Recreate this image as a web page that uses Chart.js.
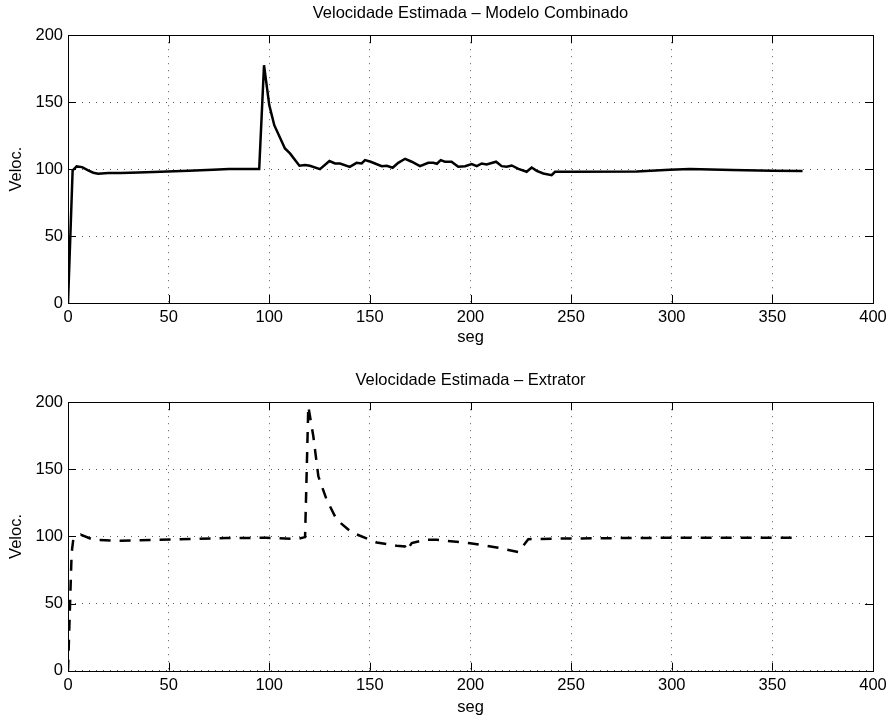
<!DOCTYPE html>
<html lang="pt">
<head>
    <meta charset="UTF-8">
    <title>Velocidade Estimada</title>
    <script src="https://cdn.jsdelivr.net/npm/chart.js@4.4.1/dist/chart.umd.min.js"></script>
    <style>
        html, body { margin: 0; padding: 0; background: #fff; }
        .plot { position: absolute; left: 0; width: 893px; height: 362px; }
        #p1 { top: 0; }
        #p2 { top: 362px; }
    </style>
</head>
<body>
    <div class="plot" id="p1"><canvas id="modeloChart"></canvas></div>
    <div class="plot" id="p2"><canvas id="extratorChart"></canvas></div>

    <script>
        // Modelo combinado (linha contínua)
        const tempoModelo = [0, 2.3, 4.3, 7, 10, 12.6, 15, 20, 26, 35, 46, 60, 72, 80, 95,
            97.4, 100, 102.5, 107.8, 110.3, 115, 117.8, 120.2, 125.2, 129.9, 132.7, 135.2,
            140, 143.4, 145.9, 147.6, 150.4, 155.9, 158.4, 161.3, 164.1, 167.5, 170.8, 174.9,
            179, 181.5, 183.3, 185.2, 187.3, 190.6, 193.9, 197.3, 200.6, 203.1, 205.6, 208,
            212.7, 215.5, 218, 220.5, 223.8, 227.9, 230.4, 232.9, 236.2, 240.3, 242, 250,
            282.6, 299, 309, 330, 350, 365];
        const velocModelo = [0, 99, 102, 101.5, 99, 97.3, 96.5, 97, 97, 97.5, 98, 98.7, 99.5, 100, 100,
            177.6, 147.8, 132.8, 115.4, 111.7, 102.5, 103, 102.5, 100, 106, 104.2, 104.2,
            101.7, 104.7, 104.2, 106.7, 105.5, 102.2, 102.5, 101, 104.7, 107.7, 105.5, 102.2,
            104.7, 104.7, 104, 106.7, 105.5, 105.5, 101.7, 102.2, 103.7, 102.2, 104.2, 103.5,
            105.5, 102.2, 101.7, 102.7, 100.2, 98, 101.2, 98.7, 96.7, 95.5, 98, 98,
            98.2, 99.5, 100, 99.3, 98.7, 98.5];

        // Extrator (linha tracejada)
        const tempoExtrator = [0, 1.8, 2.6, 6.3, 12.6, 25.8, 45.7, 78.8, 98.7, 113.6, 117.8,
            119.4, 121.9, 124.4, 128.5, 133.5, 141, 153.4, 163.3, 167.5, 168.3, 170.8, 177.4,
            183.2, 191.5, 199.8, 213, 223.8, 228.7, 249.4, 299, 330, 360];
        const velocExtrator = [0, 87.6, 97.5, 101.3, 97.5, 96.8, 97.5, 98.8, 99, 98, 99.5,
            197, 174.6, 144.8, 127.4, 112.5, 103, 95.5, 93, 92.5, 89.5, 95, 97.5,
            97.5, 96.3, 95, 91.8, 88.4, 98, 98.5, 99, 99, 99];

        const ticksX = [0, 50, 100, 150, 200, 250, 300, 350, 400];
        const ticksY = [0, 50, 100, 150, 200];

        Chart.defaults.font.family = "'Liberation Sans', Arial, Helvetica, sans-serif";
        Chart.defaults.font.size = 16.5;
        Chart.defaults.color = '#000';

        // caixa dos eixos + marcas para dentro (estilo matlab)
        const boxTicks = {
            id: 'boxTicks',
            beforeDatasetsDraw(chart) {
                const { ctx, chartArea: a } = chart;
                const sx = chart.scales.x, sy = chart.scales.y;
                const len = 8;
                ctx.save();
                ctx.strokeStyle = '#000';
                ctx.lineWidth = 1;
                ctx.beginPath();
                sx.ticks.forEach(t => {
                    const px = Math.round(sx.getPixelForValue(t.value)) + 0.5;
                    ctx.moveTo(px, a.bottom); ctx.lineTo(px, a.bottom - len);
                    ctx.moveTo(px, a.top); ctx.lineTo(px, a.top + len);
                });
                sy.ticks.forEach(t => {
                    const py = Math.round(sy.getPixelForValue(t.value)) + 0.5;
                    ctx.moveTo(a.left, py); ctx.lineTo(a.left + len, py);
                    ctx.moveTo(a.right, py); ctx.lineTo(a.right - len, py);
                });
                ctx.stroke();
                ctx.strokeRect(Math.round(a.left) + 0.5, Math.round(a.top) + 0.5,
                    Math.round(a.right - a.left), Math.round(a.bottom - a.top));
                ctx.restore();
            }
        };

        const makeChart = (id, titulo, xs, ys, dash, geo) => {
            const pts = xs.map((x, i) => ({ x: x, y: ys[i] }));
            const ctx = document.getElementById(id).getContext('2d');
            return new Chart(ctx, {
                type: 'line',
                data: {
                    datasets: [{
                        data: pts,
                        borderColor: '#000',
                        borderWidth: 2.5,
                        borderDash: dash,
                        borderCapStyle: 'butt',
                        pointRadius: 0,
                        tension: 0,
                        fill: false
                    }]
                },
                options: {
                    responsive: true,
                    maintainAspectRatio: false,
                    animation: false,
                    layout: { padding: { left: 0, right: 20, top: 0, bottom: 0 } },
                    plugins: {
                        legend: { display: false },
                        tooltip: { enabled: false },
                        title: {
                            display: true,
                            fullSize: false,
                            text: titulo,
                            color: '#000',
                            font: { size: 16.5, weight: 'normal' },
                            padding: { top: geo.titleTop, bottom: geo.titleBottom }
                        }
                    },
                    scales: {
                        x: {
                            type: 'linear',
                            min: 0,
                            max: 400,
                            afterBuildTicks: s => { s.ticks = ticksX.map(v => ({ value: v })); },
                            afterFit: s => { s.height = geo.xHeight; },
                            grid: { color: 'rgba(0,0,0,0.65)', lineWidth: 1, drawTicks: false },
                            border: { display: false, dash: [1, 6] },
                            ticks: { padding: 5, maxRotation: 0, color: '#000' },
                            title: { display: true, text: 'seg', color: '#000', padding: { top: 0, bottom: geo.segPad } }
                        },
                        y: {
                            min: 0,
                            max: 200,
                            afterBuildTicks: s => { s.ticks = ticksY.map(v => ({ value: v })); },
                            afterFit: s => { s.width = 68; },
                            grid: { color: 'rgba(0,0,0,0.65)', lineWidth: 1, drawTicks: false },
                            border: { display: false, dash: [1, 6] },
                            ticks: { padding: 5, color: '#000' },
                            title: { display: true, text: 'Veloc.', color: '#000', padding: { top: 7, bottom: 0 } }
                        }
                    }
                },
                plugins: [boxTicks]
            });
        };

        document.addEventListener('DOMContentLoaded', () => {
            makeChart('modeloChart', 'Velocidade Estimada \u2013 Modelo Combinado',
                tempoModelo, velocModelo, [],
                { titleTop: 4, titleBottom: 11.4, xHeight: 59, segPad: 15 });
            makeChart('extratorChart', 'Velocidade Estimada \u2013 Extrator',
                tempoExtrator, velocExtrator, [11, 9],
                { titleTop: 9, titleBottom: 11.4, xHeight: 53.3, segPad: 7 });
        });
    </script>
</body>
</html>
